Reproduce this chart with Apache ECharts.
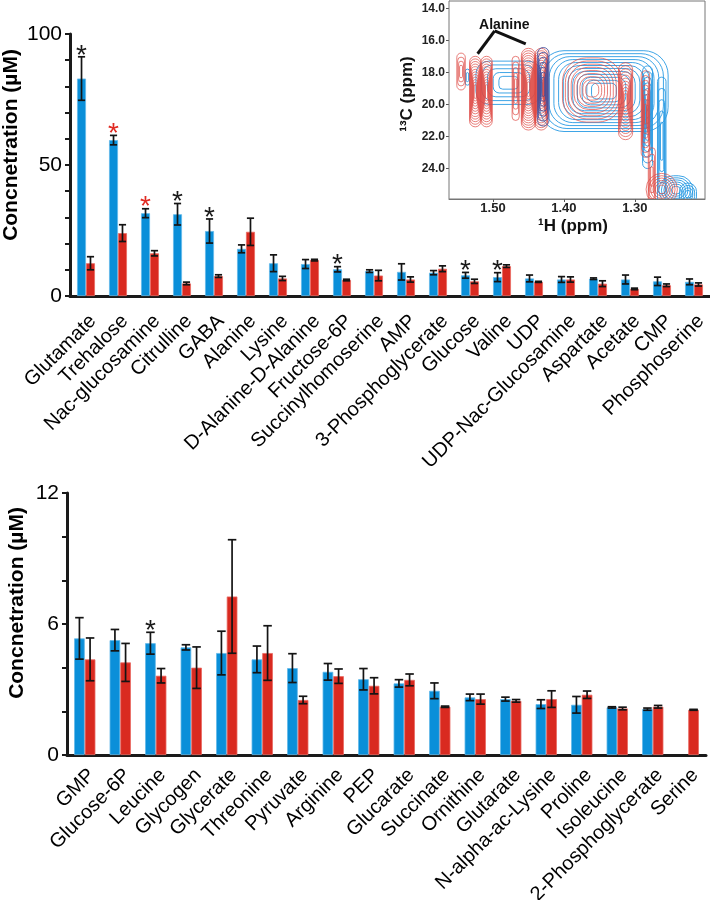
<!DOCTYPE html>
<html><head><meta charset="utf-8">
<script src="https://cdn.jsdelivr.net/npm/echarts@6/dist/echarts.min.js"></script>
<style>html,body{margin:0;padding:0;background:#fff}#c{width:710px;height:900px}</style>
</head><body><div id="c"></div>
<script>
// ---------- top panel data ----------
const topCategories = ['Glutamate','Trehalose','Nac-glucosamine','Citrulline','GABA','Alanine','Lysine','D-Alanine-D-Alanine','Fructose-6P','Succinylhomoserine','AMP','3-Phosphoglycerate','Glucose','Valine','UDP','UDP-Nac-Glucosamine','Aspartate','Acetate','CMP','Phosphoserine'];
const topBlue    = [83, 59.5, 31.6, 31.2, 24.8, 18, 12.5, 12.2, 10.2, 9.5, 9.2, 8.9, 7.9, 7.2, 6.7, 6.3, 6.6, 6.3, 5.6, 5.4];
const topBlueErr = [8.3, 1.8, 1.7, 4.1, 4.6, 1.5, 3.2, 1.7, 1.0, 0.5, 3.1, 0.8, 1.1, 1.7, 1.3, 1.1, 0.3, 1.7, 1.6, 1.1];
const topRed     = [12.5, 24, 16.3, 4.8, 7.6, 24.5, 6.7, 13.7, 6.1, 7.8, 6.3, 10.4, 5.6, 11.4, 5.4, 6.3, 4.7, 2.7, 4.1, 4.4];
const topRedErr  = [2.5, 3.2, 1.0, 0.5, 0.5, 5.2, 0.8, 0.3, 0.3, 2.0, 1.0, 1.1, 0.8, 0.5, 0.2, 1.0, 1.1, 0.3, 0.5, 0.6];
const topSig     = ['k','r','r','k','k',null,null,null,'k',null,null,null,'k','k',null,null,null,null,null,null];
const topTicks   = [0, 50, 100];

// ---------- bottom panel data ----------
const botCategories = ['GMP','Glucose-6P','Leucine','Glycogen','Glycerate','Threonine','Pyruvate','Arginine','PEP','Glucarate','Succinate','Ornithine','Glutarate','N-alpha-ac-Lysine','Proline','Isoleucine','2-Phosphoglycerate','Serine'];
const botBlue    = [5.34, 5.26, 5.12, 4.93, 4.67, 4.38, 3.98, 3.81, 3.47, 3.28, 2.94, 2.64, 2.56, 2.33, 2.30, 2.18, 2.10, null];
const botBlueErr = [0.95, 0.49, 0.50, 0.12, 1.00, 0.61, 0.66, 0.38, 0.49, 0.17, 0.36, 0.15, 0.09, 0.20, 0.38, 0.03, 0.05, null];
const botRed     = [4.38, 4.24, 3.63, 4.00, 7.26, 4.67, 2.52, 3.61, 3.17, 3.44, 2.21, 2.56, 2.48, 2.56, 2.76, 2.13, 2.21, 2.07];
const botRedErr  = [0.98, 0.87, 0.33, 0.95, 2.60, 1.25, 0.17, 0.33, 0.37, 0.27, 0.03, 0.23, 0.06, 0.38, 0.17, 0.06, 0.06, 0.02];
const botSig     = [null,null,'k',null,null,null,null,null,null,null,null,null,null,null,null,null,null,null];
const botTicks   = [0, 6, 12];

// ---------- inset (1H-13C HSQC region) data, ppm ----------
const insetXTicks = [1.30, 1.40, 1.50];
const insetYTicks = [14, 16, 18, 20, 22, 24];
// peaks: 1H centre, 13C centre, 1H half-width, 13C half-width, contour levels, roundness
const bluePeakH  = [1.536, 1.478, 1.3435, 1.282, 1.262, 1.242, 1.225];
const bluePeakC  = [18.3, 18.65, 19.17, 20.8, 22.3, 25.35, 25.6];
const bluePeakDH = [0.003, 0.046, 0.0905, 0.007, 0.006, 0.024, 0.012];
const bluePeakDC = [0.5, 1.35, 2.52, 3.2, 4.0, 0.9, 0.7];
const bluePeakN  = [2, 5, 12, 8, 5, 6, 4];
const bluePeakR  = [1, 0.6, 0.6, 1, 1, 1, 1];
const navyPeakH  = [1.429];
const navyPeakC  = [18.9];
const navyPeakDH = [0.008];
const navyPeakDC = [2.45];
const navyPeakN  = [7];
const navyPeakR  = [1];
const redPeakH   = [1.545, 1.525, 1.509, 1.468, 1.450, 1.432, 1.360, 1.313, 1.285, 1.276, 1.262];
const redPeakC   = [17.95, 19.2, 19.2, 19.0, 19.05, 19.05, 19.1, 19.8, 20.6, 24.5, 25.3];
const redPeakDH  = [0.006, 0.008, 0.008, 0.005, 0.010, 0.009, 0.042, 0.010, 0.006, 0.005, 0.022];
const redPeakDC  = [1.15, 2.2, 2.2, 2.0, 2.55, 2.55, 2.0, 2.4, 2.7, 1.8, 1.0];
const redPeakN   = [4, 12, 12, 5, 15, 15, 9, 11, 8, 4, 6];
const redPeakR   = [1, 1, 1, 1, 1, 1, 0.8, 1, 1, 1, 1];
const alanineLabel = ['Alanine', 1.484, 15.05];
const alanineJoint = [1.4976, 15.41];
const alanineTargets = [[1.5216, 16.84], [1.4538, 16.22]];

const FONT = 'Liberation Sans, Arial, sans-serif';
const BLUE = '#0a8fd9', RED = '#d92a20';

function bars(name, vals, color, border, gi, frac) {
  return {
    type: 'bar', name, xAxisIndex: gi, yAxisIndex: gi,
    data: vals, barWidth: (frac * 100) + '%', barGap: '0%',
    itemStyle: { color, borderColor: border, borderWidth: 0.8 },
    z: 2
  };
}
function errBars(mean, err, side, gi, frac) {
  const data = [];
  mean.forEach((m, i) => { if (m != null) data.push([i, m, err[i]]); });
  return {
    type: 'custom', xAxisIndex: gi, yAxisIndex: gi, data, z: 4,
    encode: { x: 0, y: 1 },
    renderItem: (params, api) => {
      const i = api.value(0), m = api.value(1), e = api.value(2);
      const band = api.size([1, 0])[0];
      const bw = band * frac;
      const cx = api.coord([i, m])[0] + side * bw / 2;
      const yT = api.coord([i, m + e])[1], yB = api.coord([i, m - e])[1];
      const c = Math.max(6, bw * 0.8) / 2;
      const st = { stroke: '#141414', lineWidth: 1.7 };
      return { type: 'group', children: [
        { type: 'line', shape: { x1: cx, y1: yT, x2: cx, y2: yB }, style: st },
        { type: 'line', shape: { x1: cx - c, y1: yT, x2: cx + c, y2: yT }, style: st },
        { type: 'line', shape: { x1: cx - c, y1: yB, x2: cx + c, y2: yB }, style: st }
      ]};
    }
  };
}
function stars(mean, err, sig, gi, frac) {
  const data = [];
  sig.forEach((s, i) => { if (s) data.push([i, mean[i] + err[i], s === 'r' ? 1 : 0]); });
  return {
    type: 'custom', xAxisIndex: gi, yAxisIndex: gi, data, z: 5,
    encode: { x: 0, y: 1 },
    renderItem: (params, api) => {
      const band = api.size([1, 0])[0];
      const bw = band * frac;
      const p = api.coord([api.value(0), api.value(1)]);
      return { type: 'text', style: {
        text: '*', x: p[0] - bw / 2, y: p[1] - 1, textAlign: 'center', textVerticalAlign: 'middle',
        font: '28px ' + FONT, fill: api.value(2) ? '#e02a22' : '#1a1a1a' } };
    }
  };
}
function contours(H, C, DH, DC, N, R, color, opacity) {
  const data = H.map((h, i) => [h, C[i], DH[i], DC[i], N[i], R[i]]);
  return {
    type: 'custom', xAxisIndex: 2, yAxisIndex: 2, data, clip: true, z: 3,
    encode: { x: 0, y: 1 },
    renderItem: (params, api) => {
      const p = api.coord([api.value(0), api.value(1)]);
      const s = api.size([api.value(2), api.value(3)]);
      const n = api.value(4), rf = api.value(5);
      const sx = Math.abs(s[0]), sy = Math.abs(s[1]);
      const ch = [];
      for (let k = 1; k <= n; k++) {
        const f = 0.12 + 0.88 * k / n;
        const w = 2 * sx * f, h = 2 * sy * f;
        ch.push({ type: 'rect', shape: { x: p[0] - w / 2, y: p[1] - h / 2, width: w, height: h, r: Math.min(w, h) / 2 * rf },
          style: { fill: 'none', stroke: color, lineWidth: 1, opacity } });
      }
      return { type: 'group', children: ch };
    }
  };
}
function catAxis(gi, cats, margin) {
  return { type: 'category', gridIndex: gi, data: cats,
    axisLine: { lineStyle: { color: '#1a1a1a', width: 3 } },
    axisTick: { show: false },
    axisLabel: { interval: 0, rotate: 45, margin, align: 'right', verticalAlign: 'top', color: '#000', fontSize: 20, fontFamily: FONT } };
}
function valAxis(gi, max, interval, ticks) {
  return { type: 'value', gridIndex: gi, min: 0, max, interval,
    axisLine: { show: true, lineStyle: { color: '#1a1a1a', width: 3 } },
    axisTick: { show: true, length: 5, lineStyle: { color: '#1a1a1a', width: 2 } },
    splitLine: { show: false },
    axisLabel: { color: '#000', fontSize: 21, fontFamily: FONT, margin: 8,
      formatter: v => ticks.indexOf(v) >= 0 ? String(v) : '' } };
}

const chart = echarts.init(document.getElementById('c'), null, { renderer: 'canvas' });
chart.setOption({
  animation: false,
  backgroundColor: '#fff',
  grid: [
    { left: 70, top: 34, width: 640, height: 262, containLabel: false, outerBoundsMode: 'none' },
    { left: 67, top: 493, width: 639, height: 262, containLabel: false, outerBoundsMode: 'none' },
    { left: 449, top: 1, width: 256, height: 198, containLabel: false, outerBoundsMode: 'none', show: true, borderColor: '#777', borderWidth: 1, backgroundColor: '#fff', z: 1 }
  ],
  xAxis: [
    catAxis(0, topCategories, 15),
    catAxis(1, botCategories, 10),
    { type: 'value', gridIndex: 2, inverse: true, min: 1.201, max: 1.562,
      axisLine: { lineStyle: { color: '#777', width: 1 } },
      axisTick: { customValues: insetXTicks, length: 3, lineStyle: { color: '#555' } },
      splitLine: { show: false },
      axisLabel: { customValues: insetXTicks, formatter: v => v.toFixed(2), color: '#222', fontWeight: 'bold', fontSize: 13, fontFamily: FONT, margin: 3 } }
  ],
  yAxis: [
    valAxis(0, 100, 10, topTicks),
    valAxis(1, 12, 2, botTicks),
    { type: 'value', gridIndex: 2, inverse: true, min: 13.55, max: 25.9,
      axisLine: { lineStyle: { color: '#777', width: 1 } },
      axisTick: { customValues: insetYTicks, length: 3, lineStyle: { color: '#555' } },
      splitLine: { show: false },
      axisLabel: { customValues: insetYTicks, formatter: v => v.toFixed(1), color: '#222', fontWeight: 'bold', fontSize: 12, fontFamily: FONT, margin: 4 } }
  ],
  series: [
    bars('blueTop', topBlue, BLUE, '#63b9ea', 0, 0.28),
    bars('redTop', topRed, RED, '#ea6a62', 0, 0.28),
    errBars(topBlue, topBlueErr, -1, 0, 0.28),
    errBars(topRed, topRedErr, 1, 0, 0.28),
    stars(topBlue, topBlueErr, topSig, 0, 0.28),
    bars('blueBot', botBlue, BLUE, '#63b9ea', 1, 0.30),
    bars('redBot', botRed, RED, '#ea6a62', 1, 0.30),
    errBars(botBlue, botBlueErr, -1, 1, 0.30),
    errBars(botRed, botRedErr, 1, 1, 0.30),
    stars(botBlue, botBlueErr, botSig, 1, 0.30),
    contours(bluePeakH, bluePeakC, bluePeakDH, bluePeakDC, bluePeakN, bluePeakR, '#2a9be3', 0.9),
    contours(redPeakH, redPeakC, redPeakDH, redPeakDC, redPeakN, redPeakR, '#de4a44', 0.7),
    contours(navyPeakH, navyPeakC, navyPeakDH, navyPeakDC, navyPeakN, navyPeakR, '#3f4f9c', 0.85),
    { type: 'custom', xAxisIndex: 2, yAxisIndex: 2, z: 6, data: [[alanineJoint[0], alanineJoint[1]]],
      encode: { x: 0, y: 1 },
      renderItem: (params, api) => {
        const j = api.coord(alanineJoint);
        const ch = alanineTargets.map(t => {
          const q = api.coord(t);
          return { type: 'line', shape: { x1: j[0], y1: j[1], x2: q[0], y2: q[1] }, style: { stroke: '#111', lineWidth: 3 } };
        });
        const lp = api.coord([alanineLabel[1], alanineLabel[2]]);
        ch.push({ type: 'text', style: { text: alanineLabel[0], x: lp[0], y: lp[1], textAlign: 'center', textVerticalAlign: 'middle',
          font: 'bold 14px ' + FONT, fill: '#111' } });
        return { type: 'group', children: ch };
      } }
  ],
  graphic: [
    { type: 'text', x: 11, y: 145, rotation: Math.PI / 2, style: { text: 'Concnetration (µM)', font: 'bold 21px ' + FONT, textAlign: 'center', textVerticalAlign: 'middle', fill: '#000' } },
    { type: 'text', x: 17, y: 603, rotation: Math.PI / 2, style: { text: 'Concnetration (µM)', font: 'bold 21px ' + FONT, textAlign: 'center', textVerticalAlign: 'middle', fill: '#000' } },
    { type: 'text', x: 407, y: 94, rotation: Math.PI / 2, style: { text: '¹³C (ppm)', font: 'bold 17px ' + FONT, textAlign: 'center', textVerticalAlign: 'middle', fill: '#111' } },
    { type: 'text', x: 573, y: 226, style: { text: '¹H (ppm)', font: 'bold 17px ' + FONT, textAlign: 'center', textVerticalAlign: 'middle', fill: '#111' } }
  ]
});
</script></body></html>
